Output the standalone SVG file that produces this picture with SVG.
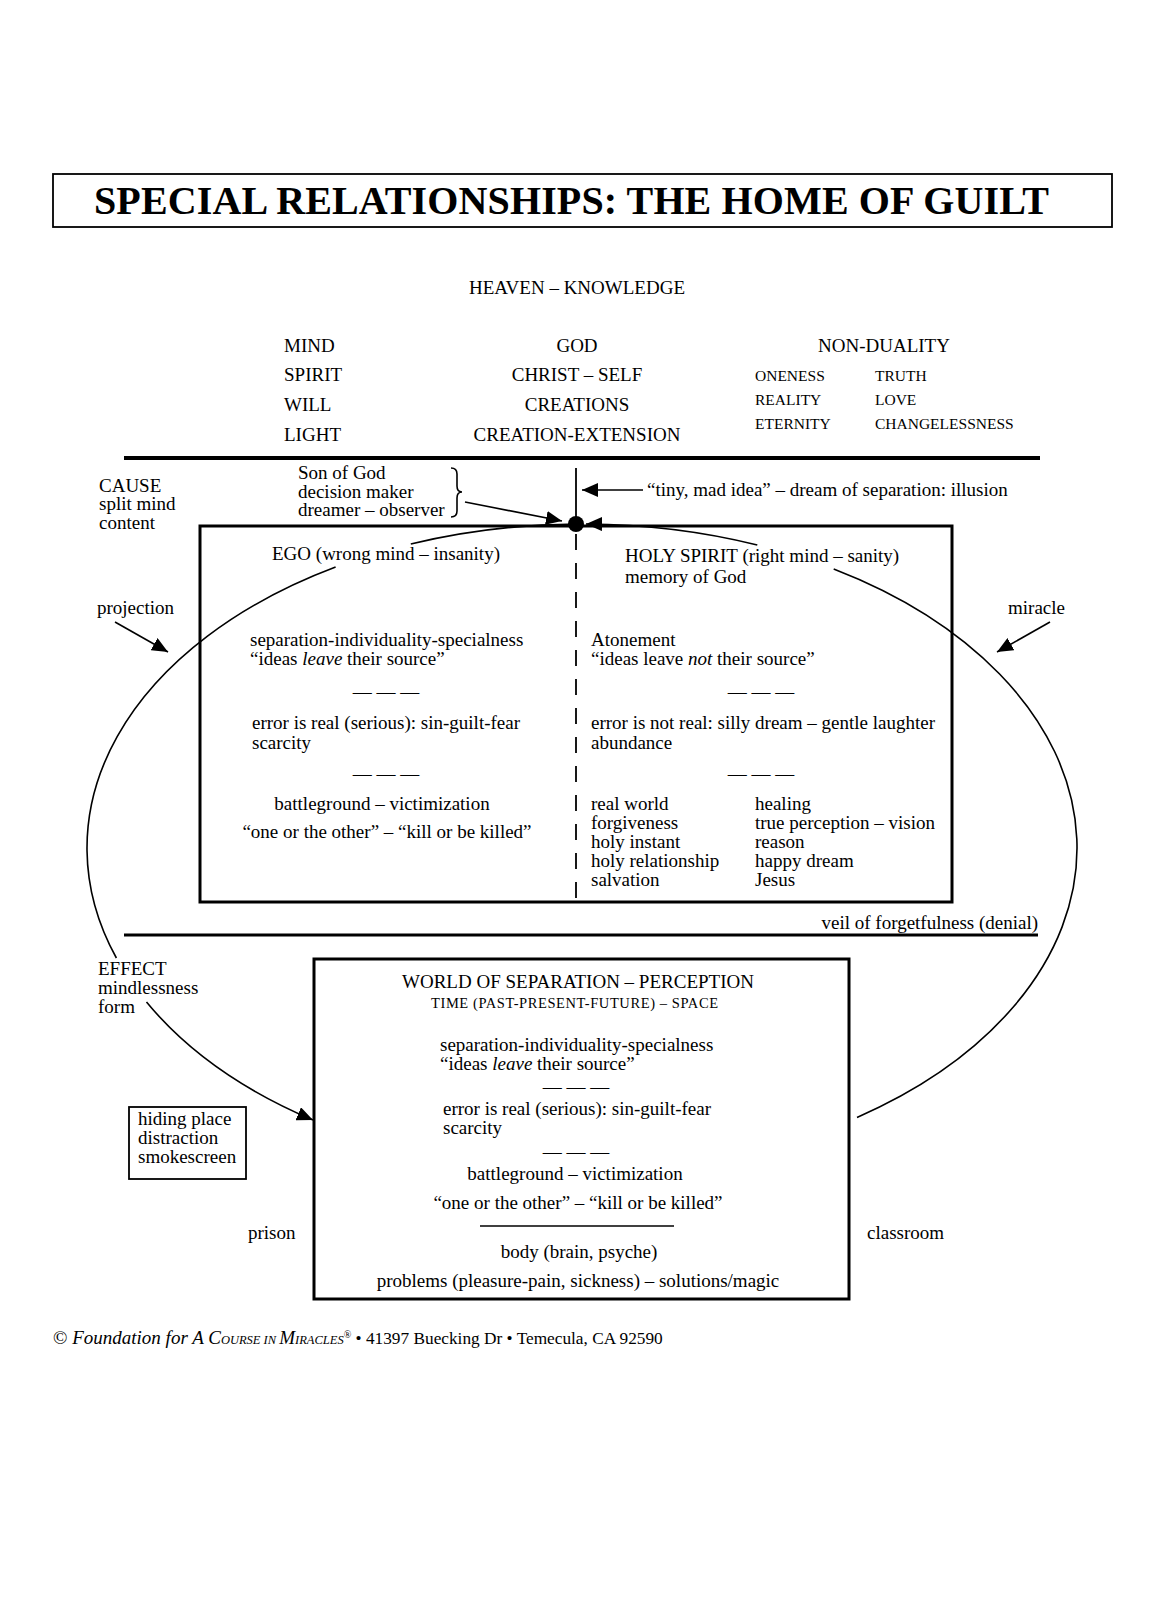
<svg xmlns="http://www.w3.org/2000/svg" width="1150" height="1600" viewBox="0 0 1150 1600">
<style>
text{font-family:"Liberation Serif","Times New Roman",serif;font-size:19px;fill:#000}
.sm{font-size:15.5px}
.tiny{font-size:14.5px}
.title{font-size:40px;font-weight:bold}
.c{text-anchor:middle}
.box{fill:none;stroke:#000;stroke-width:3}
.thin{fill:none;stroke:#000;stroke-width:1.6}
.arc{fill:none;stroke:#000;stroke-width:1.6}
</style>
<defs>
<marker id="ah" markerUnits="userSpaceOnUse" markerWidth="18" markerHeight="14" refX="16" refY="7" orient="auto">
<path d="M0,0 L16,7 L0,14 Z" fill="#000"/>
</marker>
</defs>
<rect width="1150" height="1600" fill="#fff"/>

<g id="title">
<rect x="53" y="174" width="1059" height="53" fill="none" stroke="#000" stroke-width="1.8"/>
<text class="title" x="94" y="214" textLength="955">SPECIAL RELATIONSHIPS: THE HOME OF GUILT</text>
</g>

<g id="heaven">
<text class="c" x="577" y="294">HEAVEN – KNOWLEDGE</text>
<text x="284" y="352">MIND</text>
<text x="284" y="381">SPIRIT</text>
<text x="284" y="411">WILL</text>
<text x="284" y="441">LIGHT</text>
<text class="c" x="577" y="352">GOD</text>
<text class="c" x="577" y="381">CHRIST – SELF</text>
<text class="c" x="577" y="411">CREATIONS</text>
<text class="c" x="577" y="441">CREATION-EXTENSION</text>
<text class="c" x="884" y="352">NON-DUALITY</text>
<text class="sm" x="755" y="381">ONENESS</text>
<text class="sm" x="755" y="405">REALITY</text>
<text class="sm" x="755" y="429">ETERNITY</text>
<text class="sm" x="875" y="381">TRUTH</text>
<text class="sm" x="875" y="405">LOVE</text>
<text class="sm" x="875" y="429">CHANGELESSNESS</text>
</g>

<g id="lines">
<line x1="124" y1="458" x2="1040" y2="458" stroke="#000" stroke-width="4"/>
<line x1="124" y1="935" x2="1038" y2="935" stroke="#000" stroke-width="3"/>
</g>

<g id="cause">
<text x="99" y="492">CAUSE</text>
<text x="99" y="510">split mind</text>
<text x="99" y="529">content</text>
</g>

<g id="son-of-god">
<text x="298" y="479">Son of God</text>
<text x="298" y="498">decision maker</text>
<text x="298" y="516">dreamer – observer</text>
<path class="thin" d="M451,468 Q457,468 457,474 L457,486 Q457,492 462,492 Q457,492 457,498 L457,511 Q457,517 451,517"/>
</g>

<g id="tiny-mad-idea">
<text x="647" y="496">“tiny, mad idea” – dream of separation: illusion</text>
</g>

<g id="mind-box">
<rect class="box" x="200" y="526" width="752" height="376"/>
<line x1="576" y1="534" x2="576" y2="900" stroke="#000" stroke-width="1.8" stroke-dasharray="16 13"/>
<text x="272" y="560">EGO (wrong mind – insanity)</text>
<text x="250" y="646">separation-individuality-specialness</text>
<text x="250" y="665">“ideas <tspan font-style="italic">leave</tspan> their source”</text>
<text class="c" x="386" y="698">— — —</text>
<text x="252" y="729">error is real (serious): sin-guilt-fear</text>
<text x="252" y="749">scarcity</text>
<text class="c" x="386" y="780">— — —</text>
<text class="c" x="382" y="810">battleground – victimization</text>
<text class="c" x="387" y="838">“one or the other” – “kill or be killed”</text>
<text x="625" y="562">HOLY SPIRIT (right mind – sanity)</text>
<text x="625" y="583">memory of God</text>
<text x="591" y="646">Atonement</text>
<text x="591" y="665">“ideas leave <tspan font-style="italic">not</tspan> their source”</text>
<text class="c" x="761" y="698">— — —</text>
<text x="591" y="729">error is not real: silly dream – gentle laughter</text>
<text x="591" y="749">abundance</text>
<text class="c" x="761" y="780">— — —</text>
<text x="591" y="810">real world</text>
<text x="591" y="829">forgiveness</text>
<text x="591" y="848">holy instant</text>
<text x="591" y="867">holy relationship</text>
<text x="591" y="886">salvation</text>
<text x="755" y="810">healing</text>
<text x="755" y="829">true perception – vision</text>
<text x="755" y="848">reason</text>
<text x="755" y="867">happy dream</text>
<text x="755" y="886">Jesus</text>
</g>

<g id="dot">
<line x1="576" y1="468" x2="576" y2="524" stroke="#000" stroke-width="1.8"/>
<circle cx="576" cy="524" r="8" fill="#000"/>
</g>

<g id="veil">
<text x="1038" y="929" text-anchor="end">veil of forgetfulness (denial)</text>
</g>

<g id="projection">
<text x="97" y="614">projection</text>
</g>
<g id="miracle">
<text x="1008" y="614">miracle</text>
</g>

<g id="effect">
<text x="98" y="975">EFFECT</text>
<text x="98" y="994">mindlessness</text>
<text x="98" y="1013">form</text>
</g>

<g id="hiding-place">
<rect x="129" y="1107" width="117" height="72" fill="none" stroke="#000" stroke-width="1.8"/>
<text x="138" y="1125">hiding place</text>
<text x="138" y="1144">distraction</text>
<text x="138" y="1163">smokescreen</text>
</g>

<g id="world-box">
<rect class="box" x="314" y="959" width="535" height="340"/>
<text class="c" x="578" y="988">WORLD OF SEPARATION  – PERCEPTION</text>
<text class="tiny" x="431" y="1008" textLength="287">TIME (PAST-PRESENT-FUTURE)  – SPACE</text>
<text x="440" y="1051">separation-individuality-specialness</text>
<text x="440" y="1070">“ideas <tspan font-style="italic">leave</tspan> their source”</text>
<text class="c" x="576" y="1093">— — —</text>
<text x="443" y="1115">error is real (serious): sin-guilt-fear</text>
<text x="443" y="1134">scarcity</text>
<text class="c" x="576" y="1158">— — —</text>
<text class="c" x="575" y="1180">battleground – victimization</text>
<text class="c" x="578" y="1209">“one or the other” – “kill or be killed”</text>
<line x1="480" y1="1226" x2="674" y2="1226" stroke="#000" stroke-width="1.6"/>
<text class="c" x="579" y="1258">body (brain, psyche)</text>
<text class="c" x="578" y="1287">problems (pleasure-pain, sickness) – solutions/magic</text>
</g>

<g id="prison"><text x="248" y="1239">prison</text></g>
<g id="classroom"><text x="867" y="1239">classroom</text></g>

<g id="connectors">
<path class="arc" d="M576,524 A495,324 0 0 0 410.8,544"/>
<path class="arc" d="M335.6,567 A495,324 0 0 0 116.4,958"/>
<path class="arc" d="M146.5,1002 A495,324 0 0 0 313,1120" marker-end="url(#ah)"/>
<path class="arc" d="M857,1117.4 A495,324 0 0 0 833.7,569"/>
<path class="arc" d="M757.3,545 A495,324 0 0 0 586,524" marker-end="url(#ah)"/>
<line class="thin" x1="465" y1="502" x2="562" y2="521" marker-end="url(#ah)"/>
<line class="thin" x1="643" y1="490" x2="582" y2="490" marker-end="url(#ah)"/>
<line class="thin" x1="115" y1="622" x2="168" y2="652" marker-end="url(#ah)"/>
<line class="thin" x1="1050" y1="622" x2="997" y2="652" marker-end="url(#ah)"/>
</g>

<g id="footer">
<text x="53" y="1344">© <tspan font-style="italic">Foundation for A C</tspan><tspan font-style="italic" font-size="12.5">OURSE</tspan><tspan font-style="italic" font-size="12.5"> IN </tspan><tspan font-style="italic">M</tspan><tspan font-style="italic" font-size="12.5">IRACLES</tspan><tspan font-size="10" dy="-6">®</tspan><tspan dy="6" font-size="17.3"> • 41397 Buecking Dr • Temecula, CA 92590</tspan></text>
</g>
</svg>
